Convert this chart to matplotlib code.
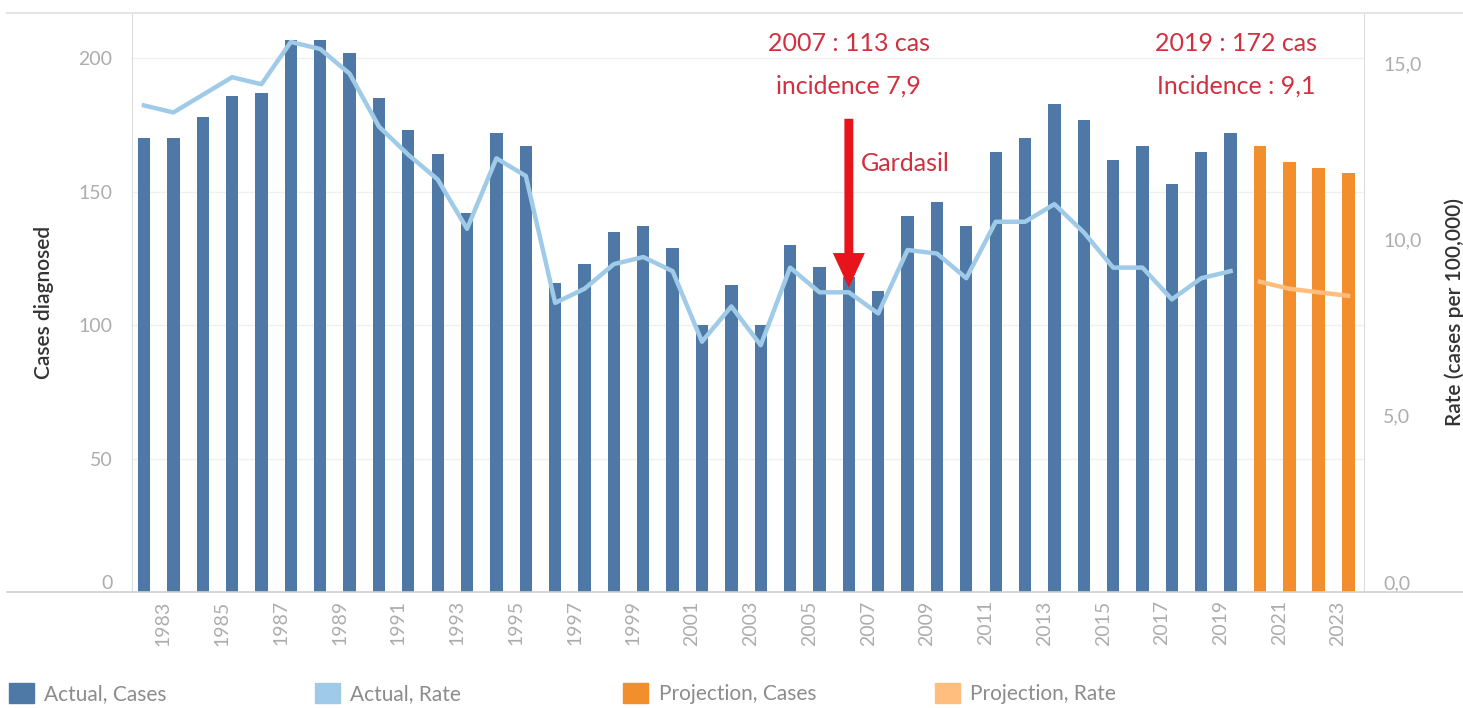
import matplotlib.pyplot as plt
from matplotlib.patches import Patch
from matplotlib.lines import Line2D
import matplotlib.transforms as mtransforms

years = list(range(1982, 2020))
cases = [170, 170, 178, 186, 187, 207, 207, 202, 185, 173, 164, 142, 172, 167,
         116, 123, 135, 137, 129, 100, 115, 100, 130, 122, 118, 113, 141, 146,
         137, 165, 170, 183, 177, 162, 167, 153, 165, 172]
rates = [13.8, 13.6, 14.1, 14.6, 14.4, 15.6, 15.4, 14.7, 13.2, 12.4, 11.7, 10.3,
         12.3, 11.8, 8.2, 8.6, 9.3, 9.5, 9.1, 7.1, 8.1, 7.0, 9.2, 8.5, 8.5, 7.9,
         9.7, 9.6, 8.9, 10.5, 10.5, 11.0, 10.2, 9.2, 9.2, 8.3, 8.9, 9.1]

proj_years = [2020, 2021, 2022, 2023]
proj_cases = [167, 161, 159, 157]
proj_rates = [8.8, 8.6, 8.5, 8.4]

tick_years = list(range(1983, 2024, 2))
left_ticks = [0, 50, 100, 150, 200]
right_ticks = [0, 5, 10, 15]

c_cases = "#4e79a7"
c_rate = "#a0cbe8"
c_pcases = "#f28e2b"
c_prate = "#ffbe7d"
c_red = "#d1303f"
c_tick = "#adadad"

plt.rcParams["font.family"] = ["Lato", "DejaVu Sans"]

fig = plt.figure(figsize=(14.63, 7.08), dpi=100)
ax = fig.add_axes([0.0902, 0.1638, 0.8421, 0.8178])
ax2 = ax.twinx()

ax.bar(years, cases, width=0.42, color=c_cases, zorder=2)
ax.bar(proj_years, proj_cases, width=0.44, color=c_pcases, zorder=2)
ax2.plot(years, rates, color=c_rate, lw=3.2, solid_joinstyle="round", zorder=3)
ax2.plot(proj_years, proj_rates, color=c_prate, lw=3.2, zorder=3)

ax.set_xlim(1981.59, 2023.54)
ax.set_ylim(0, 217)
ax2.set_ylim(0, 16.42)

ax.set_yticks(left_ticks)
ax.set_yticklabels([str(v) for v in left_ticks])
ax2.set_yticks(right_ticks)
ax2.set_yticklabels([f"{v:.1f}".replace(".", ",") for v in right_ticks])
ax.set_xticks(tick_years)
ax.set_xticklabels([str(y) for y in tick_years], rotation=90)

ax.tick_params(axis="both", length=0, labelsize=14, labelcolor=c_tick)
ax.tick_params(axis="y", pad=14)
ax.tick_params(axis="x", pad=6)
ax2.tick_params(axis="y", length=0, labelsize=14, labelcolor=c_tick, pad=14)

offset = mtransforms.ScaledTranslation(-10 / 100, 0, fig.dpi_scale_trans)
for lab in ax.get_xticklabels():
    lab.set_transform(lab.get_transform() + offset)
ax.get_yticklabels()[0].set_va("bottom")
ax2.get_yticklabels()[0].set_va("bottom")

ax.grid(axis="y", color="#f0f0f0", lw=1, zorder=0)
ax.set_axisbelow(True)
for a in (ax, ax2):
    for s in a.spines.values():
        s.set_visible(False)
ax.spines["left"].set_visible(True)
ax.spines["left"].set_color("#dcdcdc")
ax2.spines["right"].set_visible(True)
ax2.spines["right"].set_color("#dcdcdc")

# frame lines running across the whole figure
fig.add_artist(Line2D([0.005, 1], [0.9816, 0.9816], color="#e6e6e6", lw=1.5))
fig.add_artist(Line2D([0.005, 1], [0.1638, 0.1638], color="#d0d0d0", lw=1.2))

ax.set_ylabel("Cases diagnosed", fontsize=15, color="#333333",
              fontweight="semibold", labelpad=18)
fig.text(0.9945, 0.56, "Rate (cases per 100,000)", rotation=90, fontsize=15,
         color="#333333", fontweight="semibold", ha="center", va="center")

# Gardasil annotation
ax2.annotate("", xy=(2006, 8.55), xytext=(2006, 13.5),
             arrowprops=dict(arrowstyle="simple,head_length=1.25,head_width=1.15,tail_width=0.32",
                             mutation_scale=20, color="#e8141c", lw=0),
             zorder=5)
ax2.text(2006, 15.55, "2007 : 113 cas", color=c_red, fontsize=18,
         ha="center", va="center")
ax2.text(2006, 14.35, "incidence 7,9", color=c_red, fontsize=18,
         ha="center", va="center")
ax2.text(2006.4, 12.15, "Gardasil", color=c_red, fontsize=18,
         ha="left", va="center")
ax2.text(2019.2, 15.55, "2019 : 172 cas", color=c_red, fontsize=18,
         ha="center", va="center")
ax2.text(2019.2, 14.35, "Incidence : 9,1", color=c_red, fontsize=18,
         ha="center", va="center")

# legend
items = [("Actual, Cases", c_cases), ("Actual, Rate", c_rate),
         ("Projection, Cases", c_pcases), ("Projection, Rate", c_prate)]
xs = [0.006, 0.215, 0.426, 0.639]
for (name, col), x in zip(items, xs):
    fig.legend(handles=[Patch(color=col, label=name)], loc="center left",
               bbox_to_anchor=(x, 0.02), frameon=False, fontsize=15,
               labelcolor="#8c8c8c", handlelength=1.2, handleheight=1.1,
               handletextpad=0.5, borderpad=0, borderaxespad=0)

fig.savefig("out.png", dpi=100)
